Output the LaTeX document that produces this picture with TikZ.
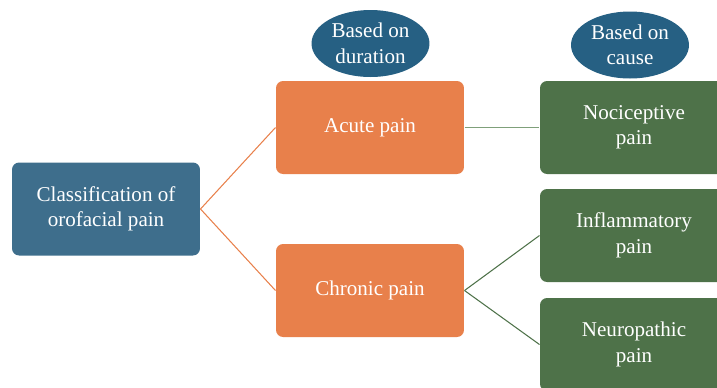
\documentclass[tikz,border=0pt]{standalone}
\usepackage{fontspec}
\setmainfont{Liberation Serif}
\usetikzlibrary{shapes.geometric}
\definecolor{rootblue}{HTML}{3E6E8C}
\definecolor{ovalblue}{HTML}{266083}
\definecolor{paintorange}{HTML}{E8804B}
\definecolor{causegreen}{HTML}{4E7249}
\definecolor{linkgreen}{HTML}{7FA07A}
\begin{document}
\begin{tikzpicture}[x=0.02cm,y=-0.02cm,line width=0.6pt,
  box/.style={rectangle,rounded corners=0.14cm,minimum width=3.76cm,minimum height=1.86cm,
    text=white,align=center,font=\fontsize{12}{14.5}\selectfont},
  oval/.style={ellipse,fill=ovalblue,minimum width=2.36cm,minimum height=1.34cm,inner sep=0pt,
    text=white,align=center,font=\fontsize{12}{14.5}\selectfont}]

\useasboundingbox (0,0) rectangle (717,387);
\clip (0,0) rectangle (717,387);

\node[box,fill=rootblue](classification) at (106,209) {Classification of\\orofacial pain};

\node[box,fill=paintorange](acute pain) at (370,127.5) {Acute pain};
\node[box,fill=paintorange](chronic pain) at (370,290.5) {Chronic pain};

\node[box,fill=causegreen](nociceptive pain) at (634,127.5) {Nociceptive\\pain};
\node[box,fill=causegreen](inflammatory pain) at (634,235.5) {Inflammatory\\pain};
\node[box,fill=causegreen](neuropathic pain) at (634,344.5) {Neuropathic\\pain};

\node[oval](duration) at (370.5,43.5) {Based on\\duration};
\node[oval](cause) at (630,45) {Based on\\cause};

\draw[draw=paintorange] (classification.east) to (acute pain.west);
\draw[draw=paintorange] (classification.east) to (chronic pain.west);

\draw[draw=linkgreen] (acute pain.east) to (nociceptive pain.west);

\draw[draw=causegreen] (chronic pain.east) to (inflammatory pain.west);
\draw[draw=causegreen] (chronic pain.east) to (neuropathic pain.west);

\end{tikzpicture}
\end{document}
